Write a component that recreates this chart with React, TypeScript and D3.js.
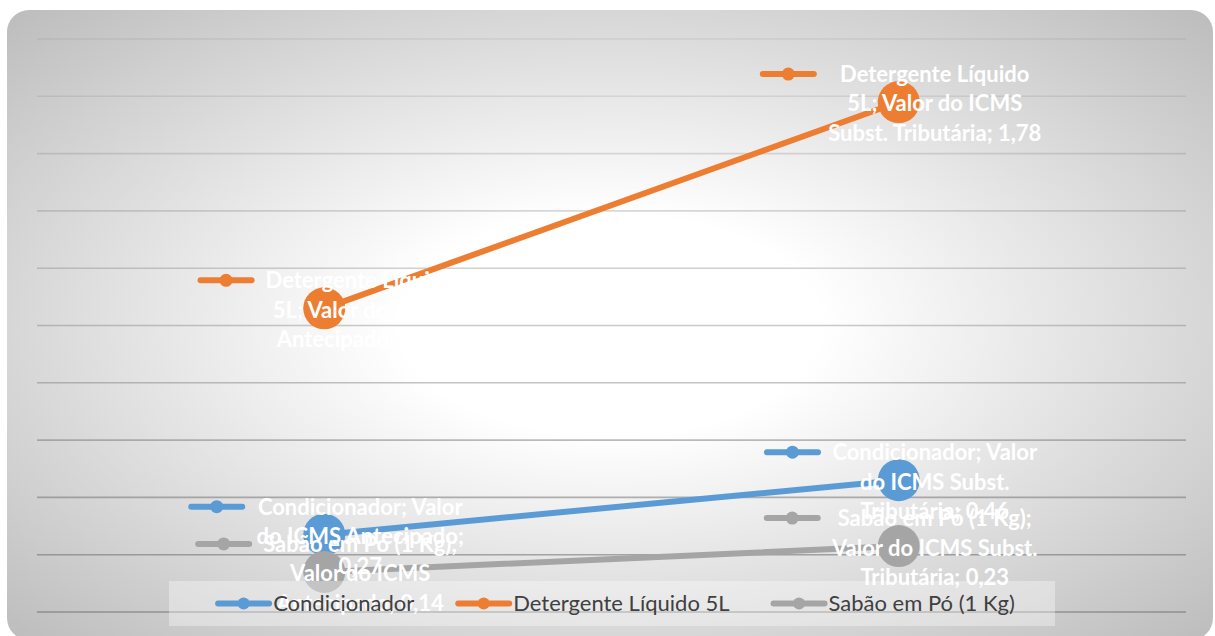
import React, { useMemo } from "react";
import * as d3 from "d3";

const categories = ["Valor do ICMS Antecipado", "Valor do ICMS Subst. Tributária"];
const seriesNames = ["Condicionador", "Detergente Líquido 5L", "Sabão em Pó (1 Kg)"];
const condicionador = [0.27, 0.46];
const detergente = [1.06, 1.78];
const sabao = [0.14, 0.23];
const seriesColors = ["#5B9BD5", "#ED7D31", "#A5A5A5"];
const yTicks = [0, 0.2, 0.4, 0.6, 0.8, 1.0, 1.2, 1.4, 1.6, 1.8, 2.0];

// Data label text, wrapped as in the original ("{v}" = the point's value)
const labelLines = [
  [
    ["Condicionador; Valor", "do ICMS Antecipado;", "{v}"],
    ["Condicionador; Valor", "do ICMS Subst.", "Tributária; {v}"],
  ],
  [
    ["Detergente Líquido", "5L; Valor do ICMS", "Antecipado; {v}"],
    ["Detergente Líquido", "5L; Valor do ICMS", "Subst. Tributária; {v}"],
  ],
  [
    ["Sabão em Pó (1 Kg);", "Valor do ICMS", "Antecipado; {v}"],
    ["Sabão em Pó (1 Kg);", "Valor do ICMS Subst.", "Tributária; {v}"],
  ],
];

const W = 1215;
const H = 636;
const FONT = "Lato, 'Open Sans', sans-serif";
const LABEL_FONT_SIZE = 22;
const LEGEND_FONT_SIZE = 22;

let _ctx: CanvasRenderingContext2D | null = null;
function measure(text: string, font: string) {
  if (!_ctx) _ctx = document.createElement("canvas").getContext("2d");
  _ctx!.font = font;
  return _ctx!.measureText(text).width;
}

const fmt = (v: number) => v.toFixed(2).replace(".", ",");

export default function App() {
  const series = [condicionador, detergente, sabao];
  const margin = { left: 37, right: W - 1186, top: 39, bottom: H - 612 };

  const x = d3
    .scalePoint<string>()
    .domain(categories)
    .range([margin.left, W - margin.right])
    .padding(0.5);
  const y = d3.scaleLinear().domain([0, 2]).range([H - margin.bottom, margin.top]);
  const gridOpacity = d3.scaleLinear().domain([2, 0]).range([0.12, 0.62]);

  const line = d3
    .line<number>()
    .x((_, i) => x(categories[i])!)
    .y((d) => y(d));

  const labelFont = `bold ${LABEL_FONT_SIZE}px ${FONT}`;
  const legendFont = `${LEGEND_FONT_SIZE}px ${FONT}`;
  const keyW = 57;
  const keyGap = 11;
  const lineH = 29.5;

  const labels = useMemo(() => {
    const out: any[] = [];
    series.forEach((vals, si) => {
      vals.forEach((v, ci) => {
        const lines = labelLines[si][ci].map((l) => l.replace("{v}", fmt(v)));
        const tw = Math.max(...lines.map((l) => measure(l, labelFont)));
        const px = x(categories[ci])!;
        const py = y(v);
        const total = keyW + keyGap + tw;
        const left = px - total / 2 + 2;
        const firstY = py + 1.5 - lineH * ((lines.length - 1) / 2);
        out.push({ si, ci, lines, tw, left, firstY, key: `${si}-${ci}` });
      });
    });
    return out;
  }, []);

  // Legend layout
  const legendBox = { x: 169, y: 581, w: 886, h: 45 };
  const legendKeyW = 57;
  const legendItemGap = 41;
  const legendItems = seriesNames.map((n) => ({ name: n, tw: measure(n, legendFont) }));
  const legendTotal =
    legendItems.reduce((s, it) => s + legendKeyW + 1 + it.tw, 0) +
    legendItemGap * (legendItems.length - 1);
  let lx = legendBox.x + legendBox.w / 2 - legendTotal / 2 + 3;
  const legendPos = legendItems.map((it) => {
    const p = { ...it, x: lx };
    lx += legendKeyW + 1 + it.tw + legendItemGap;
    return p;
  });
  const legendCy = legendBox.y + legendBox.h / 2;

  return (
    <svg
      width={W}
      height={H}
      style={{ position: "absolute", left: 0, top: 0, fontFamily: FONT }}
    >
      <defs>
        <radialGradient id="bg" cx="50%" cy="50%" r="70%">
          <stop offset="0%" stopColor="#ffffff" />
          <stop offset="25%" stopColor="#ffffff" />
          <stop offset="100%" stopColor="#bdbdbd" />
        </radialGradient>
      </defs>
      <rect x={0} y={0} width={W} height={H} fill="#ffffff" />
      <rect x={7} y={10} width={1206} height={630} rx={22} ry={22} fill="url(#bg)" />

      {/* gridlines */}
      {yTicks.map((t) => (
        <line
          key={t}
          x1={margin.left}
          x2={W - margin.right}
          y1={y(t)}
          y2={y(t)}
          stroke="#6f6f6f"
          strokeOpacity={gridOpacity(t)}
          strokeWidth={1.6}
        />
      ))}

      {/* series lines */}
      {series.map((vals, si) => (
        <path
          key={si}
          d={line(vals)!}
          fill="none"
          stroke={seriesColors[si]}
          strokeWidth={6}
          strokeLinecap="round"
          strokeLinejoin="round"
        />
      ))}
      {/* markers */}
      {series.map((vals, si) =>
        vals.map((v, ci) => (
          <circle
            key={`${si}-${ci}`}
            cx={x(categories[ci])!}
            cy={y(v)}
            r={21}
            fill={seriesColors[si]}
          />
        ))
      )}

      {/* data labels */}
      {labels.map((lb) => (
        <g key={lb.key}>
          <line
            x1={lb.left + 3}
            x2={lb.left + keyW - 3}
            y1={lb.firstY}
            y2={lb.firstY}
            stroke={seriesColors[lb.si]}
            strokeWidth={6}
            strokeLinecap="round"
          />
          <circle cx={lb.left + keyW / 2} cy={lb.firstY} r={6.5} fill={seriesColors[lb.si]} />
          {lb.lines.map((t: string, i: number) => (
            <text
              key={i}
              x={lb.left + keyW + keyGap + lb.tw / 2}
              y={lb.firstY + i * lineH}
              dy="0.36em"
              textAnchor="middle"
              fill="#ffffff"
              fontWeight="bold"
              fontSize={LABEL_FONT_SIZE}
            >
              {t}
            </text>
          ))}
        </g>
      ))}

      {/* legend */}
      <rect
        x={legendBox.x}
        y={legendBox.y}
        width={legendBox.w}
        height={legendBox.h}
        fill="#ffffff"
        fillOpacity={0.35}
      />
      {legendPos.map((it, i) => (
        <g key={it.name}>
          <line
            x1={it.x + 3}
            x2={it.x + legendKeyW - 3}
            y1={legendCy}
            y2={legendCy}
            stroke={seriesColors[i]}
            strokeWidth={6}
            strokeLinecap="round"
          />
          <circle cx={it.x + legendKeyW / 2} cy={legendCy} r={6} fill={seriesColors[i]} />
          <text
            x={it.x + legendKeyW + 1}
            y={legendCy}
            dy="0.36em"
            fill="#404040"
            fontSize={LEGEND_FONT_SIZE}
          >
            {it.name}
          </text>
        </g>
      ))}
    </svg>
  );
}
